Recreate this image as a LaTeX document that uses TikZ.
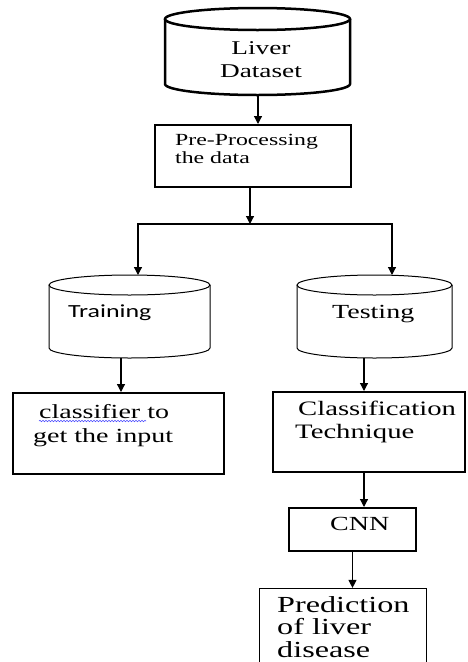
\documentclass[tikz,border=0pt]{standalone}
\usepackage{fontspec}
\setmainfont{Liberation Serif}[FakeStretch=1.4]
\newfontfamily\calfont{Carlito}[FakeStretch=1.4]
\usetikzlibrary{arrows.meta,decorations.pathmorphing}
\begin{document}
\begin{tikzpicture}[x=1pt,y=-1pt,
	box/.style={draw,line width=2pt,inner sep=0pt},
	arr/.style={line width=1.2pt,-{Triangle[length=8pt,width=8pt]}},
	txt/.style={anchor=base west,inner sep=0pt,align=left}]
	\useasboundingbox (0,0) rectangle (467,662);
	% liver dataset (text nodes sit on their last baseline)
	\draw[line width=2.5pt] (165,19) -- (165,84) arc[start angle=180,end angle=0,x radius=92.5,y radius=11] -- (350,19);
	\draw[line width=2.5pt] (257.5,19) ellipse [x radius=92.5,y radius=11];
	\node[txt,anchor=base,align=center,font=\fontsize{19.5}{23}\selectfont] (livertxt) at (261,77) {Liver\\Dataset};
	\coordinate (liverbot) at (258,96);
	% pre-processing
	\node[box,minimum width=196pt,minimum height=62pt] (pre) at (253,156) {};
	\node[txt,font=\fontsize{17}{18}\selectfont] (pretxt) at (175,163) {Pre-Processing\\the data};
	\draw[arr] (liverbot) -- (liverbot |- pre.north);
	\coordinate (split) at (250,224);
	\draw[arr] (split |- pre.south) -- (split);
	% training and testing
	\draw[line width=1pt] (49,285) -- (49,348) arc[start angle=180,end angle=0,x radius=80.5,y radius=10] -- (210,285);
	\draw[line width=1pt] (129.5,285) ellipse [x radius=80.5,y radius=10];
	\node[txt,font=\calfont\fontsize{18.5}{22}\selectfont] (traintxt) at (68,317) {Training};
	\draw[line width=1pt] (297,285) -- (297,348) arc[start angle=180,end angle=0,x radius=77.5,y radius=10] -- (452,285);
	\draw[line width=1pt] (374.5,285) ellipse [x radius=77.5,y radius=10];
	\node[txt,font=\fontsize{20}{23}\selectfont] (testtxt) at (332,318) {Testing};
	\coordinate (traintop) at (138,275);
	\coordinate (testtop) at (392,275);
	\draw[arr] (split) -| (traintop);
	\draw[arr] (split) -| (testtop);
	\coordinate (trainbot) at (121,358);
	\coordinate (testbot) at (364,358);
	% classifier
	\node[box,minimum width=211pt,minimum height=81pt] (cls) at (118.5,433.5) {};
	\node[txt,font=\fontsize{20}{24}\selectfont] (clstxt) at (33,442) {\hspace{6pt}classifier to\\get the input};
	\draw[blue!70,line width=0.6pt,decorate,decoration={snake,segment length=3pt,amplitude=0.7pt}] (39,421) -- (146,421);
	\draw[arr] (trainbot) -- (trainbot |- cls.north);
	% classification technique
	\node[box,minimum width=192pt,minimum height=80pt] (tech) at (369,432) {};
	\node[txt,font=\fontsize{20.5}{23}\selectfont] (techtxt) at (295,438) {\hspace{3pt}Classification\\Technique};
	\draw[arr] (testbot) -- (testbot |- tech.north);
	% cnn
	\node[box,minimum width=127pt,minimum height=43pt] (cnn) at (352.5,529.5) {};
	\node[txt,font=\fontsize{20}{23}\selectfont] (cnntxt) at (330,530) {CNN};
	\draw[arr] (testbot |- tech.south) -- (testbot |- cnn.north);
	% prediction
	\node[draw,line width=1.2pt,minimum width=167pt,minimum height=80pt] (pred) at (343,628.5) {};
	\node[txt,font=\fontsize{23}{22.5}\selectfont] (predtxt) at (277,657) {Prediction\\of liver\\disease};
	\draw[arr] (cnn.south) -- (cnn.south |- pred.north);
\end{tikzpicture}
\end{document}
